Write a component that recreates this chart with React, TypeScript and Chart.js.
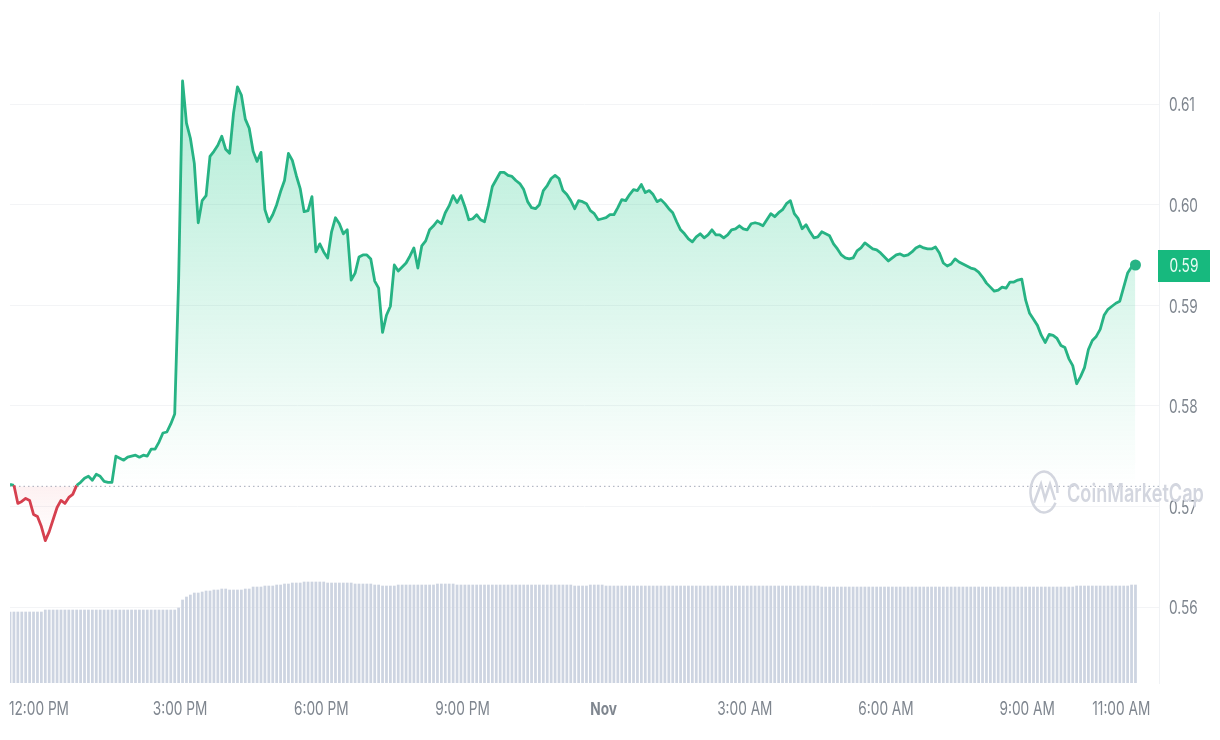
import { useEffect, useRef } from 'react';
import { Chart, registerables, Plugin } from 'chart.js';

Chart.register(...registerables);

// 5 minute samples, starts at 11:25 AM
const prices = [
  0.5722, 0.5721, 0.5703, 0.5705, 0.5708, 0.5706, 0.5692, 0.5690, 0.5680, 0.5666, 0.5675, 0.5687,
  0.5699, 0.5706, 0.5703, 0.5709, 0.5712, 0.5721, 0.5724, 0.5728, 0.5730, 0.5726, 0.5732, 0.5730,
  0.5725, 0.5724, 0.5724, 0.5750, 0.5748, 0.5746, 0.5749, 0.5750, 0.5751, 0.5749, 0.5751, 0.5750,
  0.5757, 0.5757, 0.5764, 0.5773, 0.5774, 0.5782, 0.5792, 0.5925, 0.6123, 0.6081, 0.6066, 0.6041,
  0.5982, 0.6004, 0.6009, 0.6048, 0.6053, 0.6059, 0.6068, 0.6055, 0.6051, 0.6091, 0.6117, 0.6109,
  0.6085, 0.6076, 0.6053, 0.6043, 0.6052, 0.5995, 0.5983, 0.5990, 0.6000, 0.6013, 0.6024, 0.6051,
  0.6044, 0.6029, 0.6016, 0.5993, 0.5994, 0.6008, 0.5953, 0.5961, 0.5953, 0.5947, 0.5973, 0.5987,
  0.5981, 0.5971, 0.5975, 0.5925, 0.5932, 0.5948, 0.5950, 0.5950, 0.5946, 0.5924, 0.5917, 0.5873,
  0.5890, 0.5899, 0.5940, 0.5934, 0.5938, 0.5942, 0.5949, 0.5957, 0.5937, 0.5959, 0.5964, 0.5975,
  0.5979, 0.5984, 0.5981, 0.5992, 0.5999, 0.6009, 0.6002, 0.6009, 0.5998, 0.5985, 0.5986, 0.5990,
  0.5985, 0.5983, 0.5999, 0.6018, 0.6025, 0.6032, 0.6032, 0.6029, 0.6028, 0.6024, 0.6021, 0.6015,
  0.6003, 0.5997, 0.5996, 0.6000, 0.6014, 0.6019, 0.6026, 0.6029, 0.6026, 0.6014, 0.6010, 0.6004,
  0.5996, 0.6004, 0.6003, 0.6001, 0.5994, 0.5991, 0.5985, 0.5986, 0.5987, 0.5990, 0.5990, 0.5997,
  0.6005, 0.6004, 0.6010, 0.6015, 0.6014, 0.6020, 0.6012, 0.6014, 0.6010, 0.6003, 0.6005, 0.6001,
  0.5996, 0.5992, 0.5983, 0.5975, 0.5971, 0.5966, 0.5963, 0.5968, 0.5971, 0.5967, 0.5970, 0.5975,
  0.5970, 0.5970, 0.5967, 0.5970, 0.5975, 0.5976, 0.5979, 0.5976, 0.5975, 0.5981, 0.5982, 0.5981,
  0.5979, 0.5985, 0.5991, 0.5988, 0.5992, 0.5995, 0.6001, 0.6004, 0.5991, 0.5986, 0.5976, 0.5980,
  0.5973, 0.5967, 0.5968, 0.5973, 0.5971, 0.5969, 0.5961, 0.5956, 0.5950, 0.5947, 0.5946, 0.5947,
  0.5954, 0.5957, 0.5962, 0.5959, 0.5956, 0.5955, 0.5952, 0.5948, 0.5944, 0.5947, 0.5950, 0.5951,
  0.5949, 0.5950, 0.5953, 0.5957, 0.5959, 0.5957, 0.5956, 0.5956, 0.5958, 0.5952, 0.5942, 0.5939,
  0.5941, 0.5946, 0.5943, 0.5941, 0.5939, 0.5937, 0.5936, 0.5933, 0.5928, 0.5922, 0.5918, 0.5914,
  0.5915, 0.5918, 0.5917, 0.5923, 0.5923, 0.5925, 0.5926, 0.5905, 0.5892, 0.5886, 0.5880, 0.5870,
  0.5863, 0.5871, 0.5870, 0.5867, 0.5860, 0.5858, 0.5847, 0.5840, 0.5822, 0.5829, 0.5838, 0.5856,
  0.5865, 0.5869, 0.5876, 0.5890, 0.5896, 0.5899, 0.5902, 0.5904, 0.5918, 0.5932, 0.5938, 0.5940,
];

const volumes = [
  7.1, 7.1, 7.1, 7.1, 7.1, 7.1, 7.1, 7.1, 7.1, 7.3, 7.3, 7.3,
  7.3, 7.3, 7.3, 7.3, 7.3, 7.3, 7.3, 7.3, 7.3, 7.3, 7.3, 7.3,
  7.3, 7.3, 7.3, 7.3, 7.3, 7.3, 7.3, 7.3, 7.3, 7.3, 7.3, 7.3,
  7.3, 7.3, 7.3, 7.3, 7.3, 7.3, 7.3, 7.5, 8.3, 8.6, 8.8, 9.0,
  9.0, 9.1, 9.2, 9.2, 9.3, 9.3, 9.4, 9.4, 9.3, 9.3, 9.3, 9.3,
  9.4, 9.4, 9.6, 9.6, 9.6, 9.7, 9.7, 9.7, 9.8, 9.8, 9.9, 9.9,
  10.0, 10.0, 10.0, 10.1, 10.1, 10.1, 10.1, 10.1, 10.1, 10.0, 10.0, 10.0,
  10.0, 10.0, 10.0, 10.0, 9.9, 9.9, 9.9, 9.9, 9.9, 9.8, 9.8, 9.7,
  9.7, 9.7, 9.7, 9.8, 9.8, 9.8, 9.8, 9.8, 9.8, 9.8, 9.8, 9.8,
  9.8, 9.9, 9.9, 9.9, 9.9, 9.9, 9.8, 9.8, 9.8, 9.8, 9.8, 9.8,
  9.8, 9.8, 9.8, 9.8, 9.8, 9.8, 9.8, 9.8, 9.8, 9.8, 9.8, 9.8,
  9.8, 9.8, 9.8, 9.8, 9.8, 9.8, 9.8, 9.8, 9.8, 9.8, 9.8, 9.8,
  9.7, 9.7, 9.7, 9.7, 9.8, 9.8, 9.8, 9.8, 9.7, 9.7, 9.7, 9.7,
  9.7, 9.7, 9.7, 9.7, 9.7, 9.7, 9.7, 9.7, 9.7, 9.7, 9.7, 9.7,
  9.7, 9.7, 9.7, 9.7, 9.7, 9.7, 9.7, 9.7, 9.7, 9.7, 9.7, 9.7,
  9.7, 9.7, 9.7, 9.7, 9.7, 9.7, 9.7, 9.7, 9.7, 9.7, 9.7, 9.7,
  9.7, 9.7, 9.7, 9.7, 9.7, 9.7, 9.7, 9.7, 9.7, 9.7, 9.7, 9.7,
  9.7, 9.7, 9.7, 9.6, 9.6, 9.6, 9.6, 9.6, 9.6, 9.6, 9.6, 9.6,
  9.6, 9.6, 9.6, 9.6, 9.6, 9.6, 9.6, 9.6, 9.6, 9.6, 9.6, 9.6,
  9.6, 9.6, 9.6, 9.6, 9.6, 9.6, 9.6, 9.6, 9.6, 9.6, 9.6, 9.6,
  9.6, 9.6, 9.6, 9.6, 9.6, 9.6, 9.6, 9.6, 9.6, 9.6, 9.6, 9.6,
  9.6, 9.6, 9.6, 9.6, 9.6, 9.6, 9.6, 9.6, 9.6, 9.6, 9.6, 9.6,
  9.6, 9.6, 9.6, 9.6, 9.6, 9.6, 9.6, 9.6, 9.7, 9.7, 9.7, 9.7,
  9.7, 9.7, 9.7, 9.7, 9.7, 9.7, 9.7, 9.7, 9.7, 9.7, 9.8, 9.8,
];

const basePrice = 0.572;
const priceTicks = [0.56, 0.57, 0.58, 0.59, 0.60, 0.61];
const timeTicks = [7, 43, 79, 115, 151, 187, 223, 259, 283];
const timeLabels = ['12:00 PM', '3:00 PM', '6:00 PM', '9:00 PM', 'Nov', '3:00 AM', '6:00 AM', '9:00 AM', '11:00 AM'];

const GREEN = '#27b384';
const RED = '#d6404f';
const TICK_COLOR = '#7f868f';
const MARK_COLOR = '#d3d6df';
const FONT = 'Inter, sans-serif';

// the reference is stretched: text is tall and narrow, so squeeze it sideways
function narrowText(ctx: CanvasRenderingContext2D, text: string, x: number, y: number, squeeze: number) {
  ctx.save();
  ctx.translate(x, y);
  ctx.scale(squeeze, 1);
  ctx.fillText(text, 0, 0);
  ctx.restore();
}

const overlay: Plugin = {
  id: 'overlay',
  afterDraw(chart) {
    const { ctx, chartArea, scales } = chart;
    const last = prices[prices.length - 1];
    const y = scales.y.getPixelForValue(last);

    ctx.save();
    ctx.textBaseline = 'middle';

    // tick labels
    ctx.fillStyle = TICK_COLOR;
    ctx.textAlign = 'center';
    timeTicks.forEach((value, i) => {
      ctx.font = `${i === 4 ? 'bold' : 'normal'} 18px ${FONT}`;
      narrowText(ctx, timeLabels[i], scales.x.getPixelForValue(value) + 1.5, 710, 0.76);
    });
    ctx.font = `18px ${FONT}`;
    ctx.textAlign = 'left';
    priceTicks.forEach((value) => {
      narrowText(ctx, value.toFixed(2), chartArea.right + 10, scales.y.getPixelForValue(value) + 2, 0.76);
    });

    // current price tag
    ctx.fillStyle = '#17b97e';
    ctx.fillRect(chartArea.right - 1, y - 15, 52, 32);
    ctx.fillStyle = '#e8fbf3';
    ctx.textAlign = 'center';
    narrowText(ctx, last.toFixed(2), chartArea.right + 25, y + 2, 0.76);

    // watermark
    ctx.strokeStyle = MARK_COLOR;
    ctx.lineWidth = 2.5;
    ctx.beginPath();
    ctx.ellipse(1044, 492, 13.5, 20.5, 0, 0.55, Math.PI * 2 + 0.05);
    ctx.stroke();
    ctx.beginPath();
    ctx.moveTo(1034, 503);
    ctx.lineTo(1041, 484);
    ctx.lineTo(1045, 499);
    ctx.lineTo(1050, 484);
    ctx.lineTo(1055, 500);
    ctx.stroke();
    ctx.fillStyle = MARK_COLOR;
    ctx.font = `600 25px ${FONT}`;
    ctx.textAlign = 'left';
    narrowText(ctx, 'CoinMarketCap', 1067, 494, 0.725);
    ctx.restore();
  },
};

export default function App() {
  const canvasRef = useRef<HTMLCanvasElement>(null);

  useEffect(() => {
    document.body.style.margin = '0';
    if (!canvasRef.current) return;

    const chart = new Chart(canvasRef.current, {
      type: 'line',
      data: {
        datasets: [
          {
            data: prices.map((y, x) => ({ x, y })),
            borderColor: GREEN,
            borderWidth: 2.8,
            borderJoinStyle: 'round',
            tension: 0,
            pointRadius: (c: any) => (c.dataIndex === prices.length - 1 ? 5.5 : 0),
            pointBackgroundColor: GREEN,
            pointBorderWidth: 0,
            fill: { target: { value: basePrice }, above: 'transparent', below: 'transparent' },
            segment: {
              borderColor: (c: any) =>
                c.p0.parsed.y < basePrice || c.p1.parsed.y < basePrice ? RED : GREEN,
            },
            order: 1,
          },
          {
            data: [
              { x: 0, y: basePrice },
              { x: 293, y: basePrice },
            ],
            borderColor: '#a3acbb',
            borderWidth: 1,
            borderDash: [1.5, 3],
            pointRadius: 0,
            order: 2,
          },
          {
            type: 'bar',
            data: volumes.map((y, x) => ({ x, y })),
            yAxisID: 'volume',
            backgroundColor: '#cdd4e1',
            barThickness: 2.1,
            order: 3,
          },
        ] as any,
      },
      options: {
        animation: false,
        responsive: false,
        layout: { padding: { left: 10, top: 12, right: 0, bottom: 0 } },
        plugins: { legend: { display: false }, tooltip: { enabled: false } },
        scales: {
          x: {
            type: 'linear',
            offset: false,
            min: 0,
            max: 293,
            border: { display: false },
            grid: { display: false },
            afterBuildTicks: (s: any) => {
              s.ticks = timeTicks.map((value) => ({ value }));
            },
            afterFit: (s: any) => {
              s.height = 57;
              s.paddingLeft = 0;
              s.paddingRight = 0;
            },
            ticks: { display: false },
          },
          y: {
            position: 'right',
            min: 0.55245,
            max: 0.61915,
            border: { display: true, color: '#f0f2f5' },
            grid: { color: '#f3f4f6', drawTicks: false },
            afterBuildTicks: (s: any) => {
              s.ticks = priceTicks.map((value) => ({ value }));
            },
            afterFit: (s: any) => {
              s.width = 61;
              s.paddingTop = 0;
              s.paddingBottom = 0;
            },
            ticks: { display: false },
          },
          volume: {
            display: false,
            min: 0,
            max: 67.1,
          },
        },
      },
      plugins: [overlay],
    });

    // gradients need the scale pixels, so set them once the chart is laid out
    const ctx = chart.ctx;
    const yScale = chart.scales.y;
    const baseY = yScale.getPixelForValue(basePrice);
    const above = ctx.createLinearGradient(0, yScale.getPixelForValue(Math.max(...prices)), 0, baseY);
    above.addColorStop(0, 'rgba(22, 199, 132, 0.33)');
    above.addColorStop(1, 'rgba(22, 199, 132, 0)');
    const below = ctx.createLinearGradient(0, baseY, 0, yScale.getPixelForValue(Math.min(...prices)));
    below.addColorStop(0, 'rgba(234, 57, 67, 0.07)');
    below.addColorStop(1, 'rgba(234, 57, 67, 0)');
    (chart.data.datasets[0] as any).fill = { target: { value: basePrice }, above, below };
    chart.update('none');

    return () => chart.destroy();
  }, []);

  return <canvas ref={canvasRef} width={1220} height={740} style={{ display: 'block' }} />;
}
